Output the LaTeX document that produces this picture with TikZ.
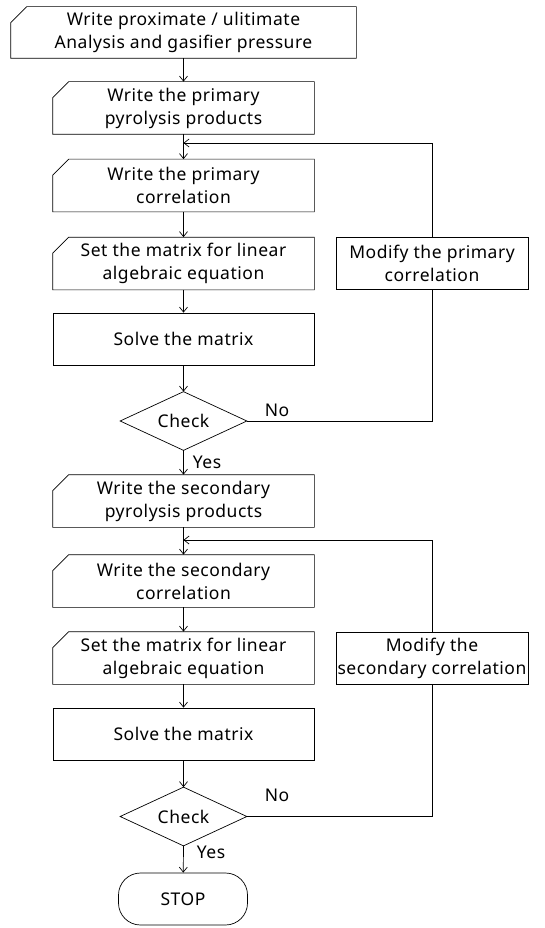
\documentclass[tikz,border=0pt]{standalone}
\usepackage{fontspec}
\setmainfont{Noto Sans}[LetterSpace=3]
\usetikzlibrary{arrows.meta}
\begin{document}
\begin{tikzpicture}[x=1pt,y=-1pt,
  font=\fontsize{17.5}{23}\selectfont,
  line width=0.7pt,
  box/.style={rectangle, minimum width=261pt, minimum height=52pt, align=center, inner sep=0pt},
  rbox/.style={box, draw},
  mbox/.style={rectangle, draw, minimum width=192pt, minimum height=52pt, align=center, inner sep=0pt},
  dbox/.style={rectangle, minimum width=126pt, minimum height=58pt, inner sep=0pt},
  lbl/.style={inner sep=0pt},
  arr/.style={-{Straight Barb[length=5pt,width=8pt]}}]
\useasboundingbox (0,0) rectangle (544,928);
% main column
\node[box, minimum width=345pt, minimum height=51pt] (a) at (183.5,32.5) {Write proximate / ulitimate\\Analysis and gasifier pressure};
\node[box] (b) at (183.5,108) {Write the primary\\pyrolysis products};
\node[box] (c) at (183.5,185.5) {Write the primary\\correlation};
\node[box] (d) at (183.5,263.5) {Set the matrix for linear\\algebraic equation};
\node[rbox] (e) at (183.5,339) {Solve the matrix};
\node[dbox] (k1) at (183.5,421) {Check};
\node[lbl] (no1) at (277,410) {No};
\node[lbl] (yes1) at (207,462) {Yes};
\node[box] (f) at (183.5,501) {Write the secondary\\pyrolysis products};
\node[box] (g) at (183.5,581) {Write the secondary\\correlation};
\node[box] (h) at (183.5,658) {Set the matrix for linear\\algebraic equation};
\node[rbox] (i) at (183.5,734) {Solve the matrix};
\node[dbox] (k2) at (183.5,816.5) {Check};
\node[lbl] (no2) at (277,795) {No};
\node[lbl] (yes2) at (211,852) {Yes};
\node[rectangle, draw, rounded corners=22pt, minimum width=129pt, minimum height=52pt, inner sep=0pt] (stop) at (183,899) {STOP};
% modify boxes
\node[mbox] (m1) at (432,263) {Modify the primary\\correlation};
\node[mbox] (m2) at (432,658) {Modify the\\secondary correlation};
% manual input shapes
\foreach \n in {a,b,c,d,f,g,h}
  \draw ([yshift=-16pt]\n.north west) -- ([xshift=16pt]\n.north west) -- (\n.north east) -- (\n.south east) -- (\n.south west) -- cycle;
% diamonds
\foreach \n in {k1,k2}
  \draw (\n.north) -- (\n.east) -- (\n.south) -- (\n.west) -- cycle;
% join points
\coordinate (fb1) at (183.5,143);
\coordinate (fb2) at (183.5,540);
% connectors
\draw[arr] (a) -- (b);
\draw[arr] (b) -- (c);
\draw[arr] (c) -- (d);
\draw[arr] (d) -- (e);
\draw[arr] (e) -- (k1.north);
\draw[arr] (k1.south) -- (f);
\draw[arr] (f) -- (g);
\draw[arr] (g) -- (h);
\draw[arr] (h) -- (i);
\draw[arr] (i) -- (k2.north);
\draw[arr] (k2.south) -- (stop);
\draw (k1.east) -| (m1.south);
\draw[arr] (m1.north) |- (fb1);
\draw (k2.east) -| (m2.south);
\draw[arr] (m2.north) |- (fb2);
\end{tikzpicture}
\end{document}
